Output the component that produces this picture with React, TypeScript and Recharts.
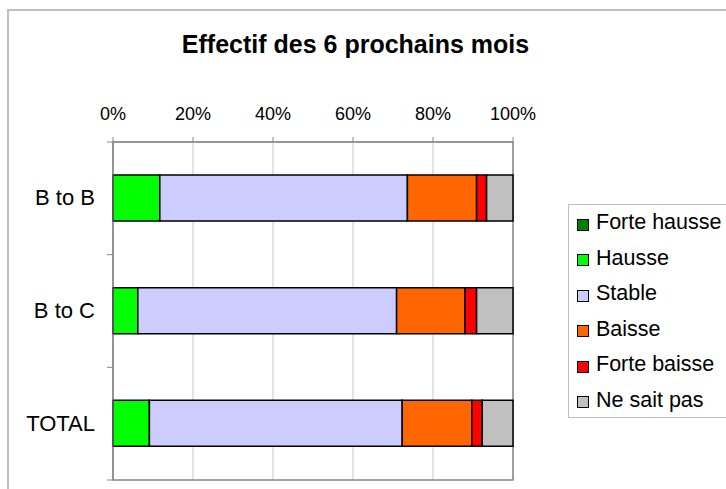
import React from "react";
import {
	Bar,
	BarChart,
	CartesianGrid,
	Legend,
	ReferenceArea,
	XAxis,
	YAxis
} from "recharts";

const categories = ["B to B", "B to C", "TOTAL"];
const seriesNames = ["Forte hausse", "Hausse", "Stable", "Baisse", "Forte baisse", "Ne sait pas"];
const forteHausse = [0, 0, 0];
const hausse = [11.7, 6.2, 9.1];
const stable = [61.9, 64.7, 63.2];
const baisse = [17.3, 17.1, 17.4];
const forteBaisse = [2.5, 2.9, 2.6];
const neSaitPas = [6.6, 9.1, 7.7];
const percentTicks = [0, 20, 40, 60, 80, 100];

const colors = ["#008000", "#00ff00", "#ccccff", "#ff6600", "#ff0000", "#c0c0c0"];
const seriesValues = [forteHausse, hausse, stable, baisse, forteBaisse, neSaitPas];

const data = categories.map((name, i) => {
	const row: Record<string, any> = { name };
	seriesNames.forEach((s, j) => {
		row[s] = seriesValues[j][i];
	});
	return row;
});

const FONT = '"Liberation Sans", Arial, sans-serif';
const W = 726;
const H = 489;
const margin = { top: 112, right: 213, bottom: 9, left: 13 };
const X_AXIS_H = 30;
const Y_AXIS_W = 100;
const plotLeft = margin.left + Y_AXIS_W;
const plotHeight = H - margin.top - X_AXIS_H - margin.bottom;
const band = plotHeight / categories.length;

function CategoryTick(props: any) {
	const { x, y, payload, index } = props;
	const half = band / 2;
	return (
		<g>
			<line x1={plotLeft - 6} x2={plotLeft} y1={y - half} y2={y - half} stroke="#888" />
			{index === categories.length - 1 && (
				<line x1={plotLeft - 6} x2={plotLeft} y1={y + half} y2={y + half} stroke="#888" />
			)}
			<text x={x} y={y} dy={7} textAnchor="end" fontSize={22} fontFamily={FONT} fill="#000">
				{payload.value}
			</text>
		</g>
	);
}

function PercentTick(props: any) {
	const { x, y, payload } = props;
	return (
		<text x={x} y={y} textAnchor="middle" fontSize={18} fontFamily={FONT} fill="#000">
			{`${payload.value}%`}
		</text>
	);
}

function LegendBox(props: any) {
	const items = [...(props.payload || [])].sort(
		(a: any, b: any) => seriesNames.indexOf(a.value) - seriesNames.indexOf(b.value)
	);
	return (
		<div
			style={{
				border: "1.5px solid #c0c0c0",
				boxSizing: "border-box",
				height: 214,
				width: 200,
				paddingLeft: 8,
				background: "#fff"
			}}
		>
			{items.map((p: any) => (
				<div
					key={p.value}
					style={{ height: 35.5, display: "flex", alignItems: "center", fontFamily: FONT, fontSize: 21.5, whiteSpace: "nowrap" }}
				>
					<span
						style={{
							display: "inline-block",
							width: 12,
							height: 12,
							boxSizing: "border-box",
							border: "1px solid #000",
							background: p.color,
							marginRight: 7,
							position: "relative",
							top: 2
						}}
					/>
					<span style={{ color: "#000" }}>{p.value}</span>
				</div>
			))}
		</div>
	);
}

export default function App() {
	return (
		<div style={{ position: "absolute", left: 0, top: 0, width: W, height: H, overflow: "hidden", background: "#fff" }}>
			<div
				style={{
					position: "absolute",
					left: 7,
					top: 9,
					width: 900,
					height: 700,
					border: "2px solid #c0c0c0"
				}}
			/>
			<div
				style={{
					position: "absolute",
					left: 0,
					top: 30,
					width: 711,
					textAlign: "center",
					fontFamily: FONT,
					fontWeight: "bold",
					fontSize: 25,
					color: "#000"
				}}
			>
				Effectif des 6 prochains mois
			</div>
			<div style={{ position: "absolute", left: 0, top: 0 }}>
				<BarChart width={W} height={H} data={data} layout="vertical" margin={margin}>
					<CartesianGrid horizontal={false} stroke="#c8c8c8" />
					<XAxis
						type="number"
						orientation="top"
						domain={[0, 100]}
						ticks={percentTicks}
						height={X_AXIS_H}
						tickSize={5}
						tickMargin={17}
						tick={<PercentTick />}
						stroke="#888"
						interval={0}
					/>
					<YAxis
						type="category"
						dataKey="name"
						width={Y_AXIS_W}
						tickLine={false}
						tickSize={6}
						tickMargin={12}
						tick={<CategoryTick />}
						stroke="#888"
						interval={0}
					/>
					<ReferenceArea x1={0} x2={100} fill="none" stroke="#888" strokeWidth={1.5} />
					{seriesNames.map((s, j) => (
						<Bar
							key={s}
							dataKey={s}
							stackId="a"
							fill={colors[j]}
							stroke="#000"
							strokeWidth={1.5}
							barSize={46}
							isAnimationActive={false}
						/>
					))}
					<Legend
						layout="horizontal"
						align="center"
						verticalAlign="middle"
						content={<LegendBox />}
						wrapperStyle={{ left: 568, top: 204, width: 200, height: 214 }}
					/>
				</BarChart>
			</div>
		</div>
	);
}
